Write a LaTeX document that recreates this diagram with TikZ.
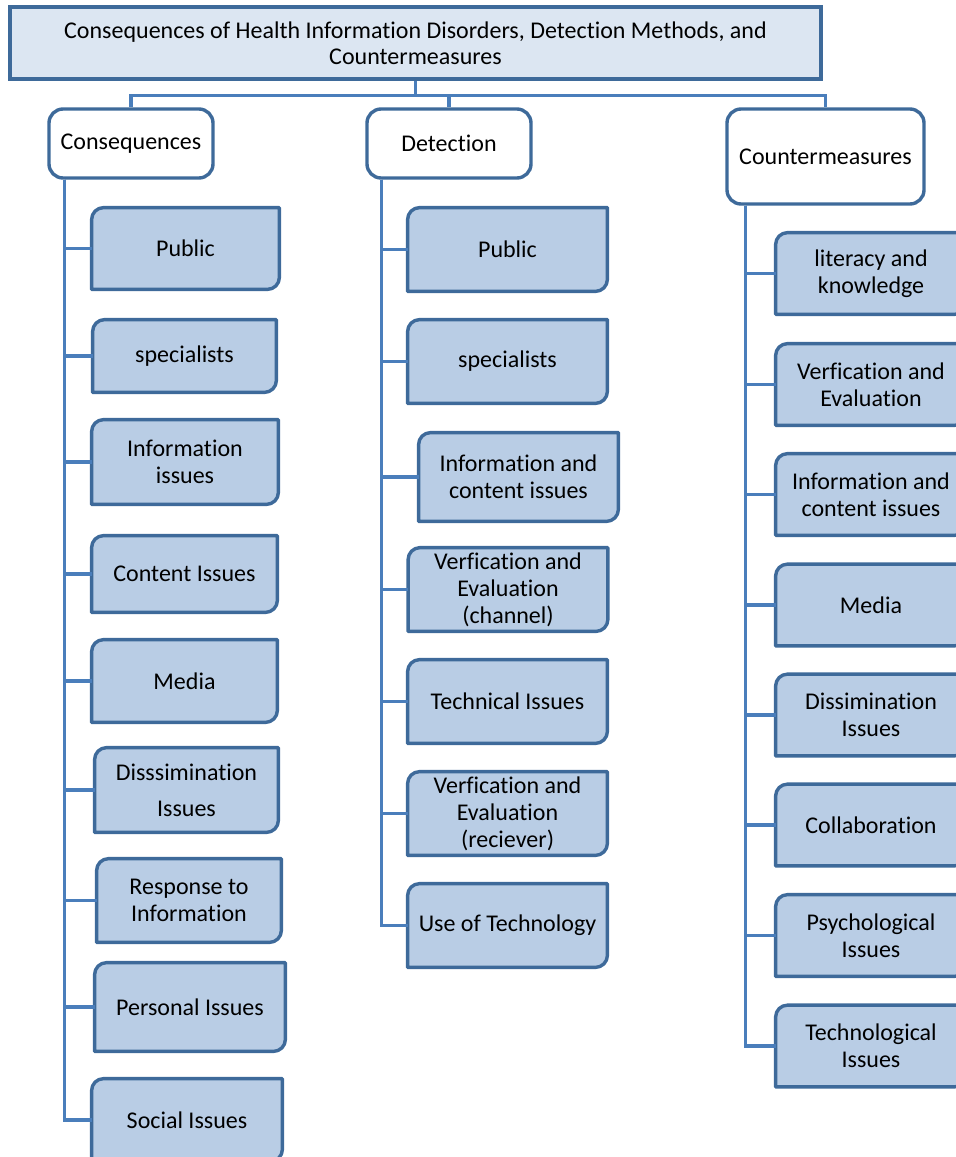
\documentclass[tikz,border=0pt]{standalone}
\usepackage{fontspec}
\setmainfont{Carlito}[Ligatures=NoCommon]
\usepackage{tikz}
\usetikzlibrary{backgrounds}
\definecolor{boxline}{HTML}{3E6A9A}
\definecolor{linkline}{HTML}{4A7EBB}
\definecolor{leaffill}{HTML}{B9CDE5}
\definecolor{titlefill}{HTML}{DCE6F2}
\tikzset{
  every picture/.style={x=0.5pt, y=-0.5pt},
  title/.style={draw=boxline, line width=1.7pt, fill=titlefill, align=center,
    inner sep=0pt, font=\fontsize{12}{13}\selectfont},
  head/.style={draw=boxline, line width=1.7pt, fill=white, rounded corners=7pt,
    align=center, inner sep=0pt, font=\fontsize{12}{13}\selectfont},
  leaf/.style={align=center, inner sep=0pt, font=\fontsize{12}{13.5}\selectfont},
  link/.style={draw=linkline, line width=1.6pt}
}
\newcommand{\leafframe}[1]{%
  \begin{pgfonlayer}{background}
    \filldraw[draw=boxline, fill=leaffill, line width=1.7pt, line join=round]
      (#1.south west) -- ([yshift=-6pt]#1.north west)
      arc[start angle=180, end angle=90, radius=6pt] -- (#1.north east)
      -- ([yshift=6pt]#1.south east)
      arc[start angle=0, end angle=-90, radius=6pt] -- cycle;
  \end{pgfonlayer}}

\begin{document}
\begin{tikzpicture}
  \useasboundingbox (0,0) rectangle (955,1157);

  \node[title, minimum width=405.5pt, minimum height=36pt] (title) at (415.5,43)
    {Consequences of Health Information Disorders, Detection Methods, and\\Countermeasures};

  \node[head, minimum width=82pt, minimum height=34.5pt] (cons) at (131,143.5) {Consequences};
  \node[head, minimum width=82pt, minimum height=34.5pt] (det) at (449,143.5) {Detection};
  \node[head, minimum width=98.5pt, minimum height=47.5pt] (ctr) at (825.5,156.5) {Countermeasures};

  \coordinate (bus) at ([yshift=-7.5pt]title.south);
  \draw[link] (title.south) -- (bus) -| (cons.north);
  \draw[link] (bus) -| (det.north);
  \draw[link] (bus) -| (ctr.north);

  \foreach \n/\x/\y/\w/\h/\t in {
    c1/185.5/248.5/187/81/{Public},
    c2/184.5/356/183/72/{specialists},
    c3/185/462/186/84/{Information\\issues},
    c4/184.5/574/185/76/{Content Issues},
    c5/184.5/681/185/82/{Media},
    c6/186.5/790/183/84/{Disssimination\\[4.5pt]Issues},
    c7/189/900.5/184/83/{Response to\\Information},
    c8/190/1007/190/88/{Personal Issues},
    c9/187/1120/190/82/{Social Issues},
    d1/507.5/249.5/199/83/{Public},
    d2/507.5/361.5/199/83/{specialists},
    d3/518.5/477/199/88/{Information and\\content issues},
    d4/508/589.5/199/83/{Verfication and\\Evaluation\\(channel)},
    d5/507.5/701.5/199/83/{Technical Issues},
    d6/507.5/813.5/199/83/{Verfication and\\Evaluation\\(reciever)},
    d7/507.5/925.5/199/83/{Use of Technology},
    m1/871/273.5/190/81/{literacy and\\knowledge},
    m2/871/384.5/190/81/{Verfication and\\Evaluation},
    m3/871/494.5/190/81/{Information and\\content issues},
    m4/871/605/190/81/{Media},
    m5/871/715/190/81/{Dissimination\\Issues},
    m6/871/825/190/81/{Collaboration},
    m7/871/935.5/190/81/{Psychological\\Issues},
    m8/871/1046/190/81/{Technological\\Issues}}
  {
    \node[leaf, minimum width=\w*0.5pt, minimum height=\h*0.5pt] (\n) at (\x,\y) {\t};
    \leafframe{\n}
  }

  \coordinate (cspine) at ([xshift=8.5pt]cons.south west);
  \coordinate (dspine) at ([xshift=8pt]det.south west);
  \coordinate (mspine) at ([xshift=10pt]ctr.south west);
  \foreach \i in {1,...,9} \draw[link] (cspine) |- (c\i.west);
  \foreach \i in {1,...,7} \draw[link] (dspine) |- (d\i.west);
  \foreach \i in {1,...,8} \draw[link] (mspine) |- (m\i.west);
\end{tikzpicture}
\end{document}
